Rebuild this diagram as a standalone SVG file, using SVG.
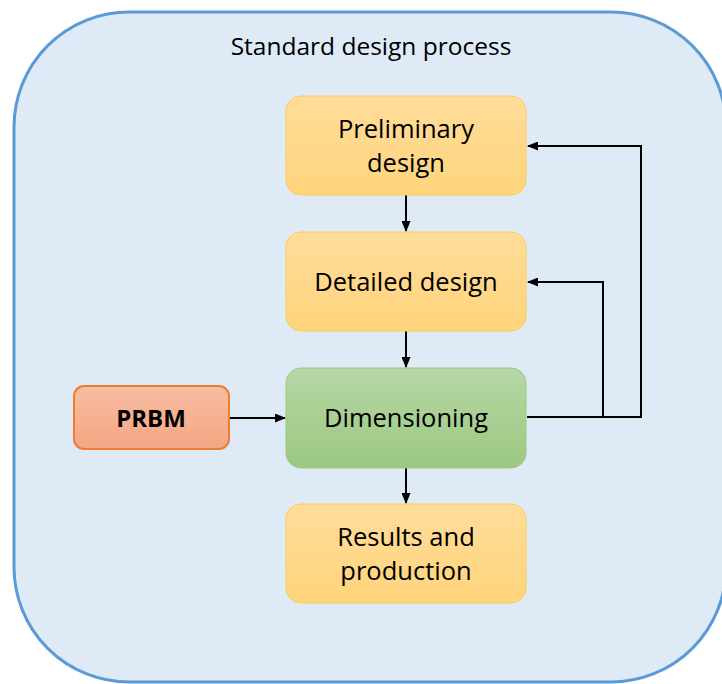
<svg xmlns="http://www.w3.org/2000/svg" width="722" height="684" viewBox="0 0 722 684">
<style>
text{font-family:"Open Sans","Liberation Sans",sans-serif;fill:#000;text-anchor:middle}
.lbl{font-size:25.5px}
.title{font-size:24.5px}
.bold{font-weight:bold;font-size:24px}
.conn{fill:none;stroke:#000;stroke-width:2}
</style>
<defs>
<linearGradient id="gy" x1="0" y1="0" x2="0" y2="1"><stop offset="0" stop-color="#FFDC9A"/><stop offset="1" stop-color="#FFD47C"/></linearGradient>
<linearGradient id="gg" x1="0" y1="0" x2="0" y2="1"><stop offset="0" stop-color="#B6D7A6"/><stop offset="1" stop-color="#9CC881"/></linearGradient>
<linearGradient id="go" x1="0" y1="0" x2="0" y2="1"><stop offset="0" stop-color="#F8BDA2"/><stop offset="1" stop-color="#F5A683"/></linearGradient>
<marker id="ah" markerWidth="11" markerHeight="9" refX="10" refY="4.5" orient="auto" markerUnits="userSpaceOnUse"><path d="M0,0 L11,4.5 L0,9 Z" fill="#000"/></marker>
</defs>
<g id="container">
<rect x="14" y="12" width="712" height="670" rx="115" ry="115" fill="#DEEAF6" stroke="#5B9BD5" stroke-width="3"/>
<text class="title" x="371" y="55">Standard design process</text>
</g>
<g id="connectors">
<line class="conn" x1="406" y1="195" x2="406" y2="231" marker-end="url(#ah)"/>
<line class="conn" x1="406" y1="331" x2="406" y2="367" marker-end="url(#ah)"/>
<line class="conn" x1="406" y1="468" x2="406" y2="503" marker-end="url(#ah)"/>
<line class="conn" x1="230" y1="418" x2="285" y2="418" marker-end="url(#ah)"/>
<polyline class="conn" points="527,417 641,417 641,146 528,146" marker-end="url(#ah)"/>
<polyline class="conn" points="603,417 603,282 528,282" marker-end="url(#ah)"/>
</g>
<g id="preliminary">
<rect x="286" y="96" width="240" height="99" rx="15" fill="url(#gy)" stroke="#FFCC4D" stroke-width="1"/>
<text class="lbl" x="406" y="138">Preliminary</text>
<text class="lbl" x="406" y="172">design</text>
</g>
<g id="detailed">
<rect x="286" y="232" width="240" height="99" rx="15" fill="url(#gy)" stroke="#FFCC4D" stroke-width="1"/>
<text class="lbl" x="406" y="291">Detailed design</text>
</g>
<g id="dimensioning">
<rect x="286" y="368" width="240" height="100" rx="15" fill="url(#gg)" stroke="#9CC881" stroke-width="1"/>
<text class="lbl" x="406" y="427">Dimensioning</text>
</g>
<g id="results">
<rect x="286" y="504" width="240" height="99" rx="15" fill="url(#gy)" stroke="#FFCC4D" stroke-width="1"/>
<text class="lbl" x="406" y="546">Results and</text>
<text class="lbl" x="406" y="580">production</text>
</g>
<g id="prbm">
<rect x="74" y="386" width="155" height="63" rx="10" fill="url(#go)" stroke="#ED7D31" stroke-width="2"/>
<text class="lbl bold" x="151" y="427">PRBM</text>
</g>
</svg>
